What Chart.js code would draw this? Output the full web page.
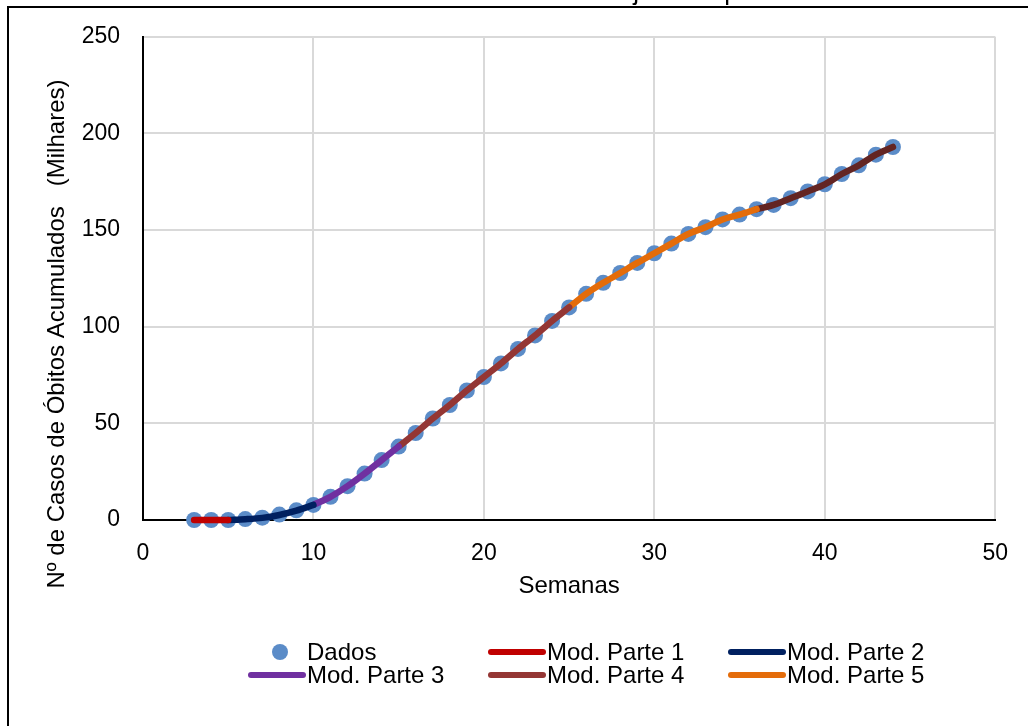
<!DOCTYPE html>
<html>
<head>
<meta charset="utf-8">
<script src="https://cdn.jsdelivr.net/npm/chart.js@4/dist/chart.umd.min.js"></script>
<style>
  html, body { margin: 0; padding: 0; background: #fff; overflow: hidden; }
  #wrap { position: relative; width: 1028px; height: 726px; }
  #grafico { position: absolute; left: 0; top: 0; }
  #legenda {
    position: absolute; left: 248px; top: 640px;
    display: grid; grid-template-columns: 240px 240px 240px;
    font-family: "Liberation Sans", Arial, sans-serif; font-size: 24px; color: #000;
  }
  .item { display: flex; align-items: center; height: 23px; white-space: nowrap; }
  .marca { position: relative; width: 58px; height: 23px; margin-right: 1px; }
  .marca .linha { position: absolute; left: 0; right: 0; top: 9px; height: 6px; border-radius: 3px; }
  .marca .ponto { position: absolute; left: 24px; top: 4px; width: 16px; height: 16px; border-radius: 50%; }
</style>
</head>
<body>
<div id="wrap">
  <canvas id="grafico" width="1028" height="726"></canvas>
  <div id="legenda"></div>
</div>
<script>
const titulo = "Nº de Óbitos Acumulados do COVID-19 Ajustado por Intervalos"
const tituloX = "Semanas"
const tituloY = "Nº de Casos de Óbitos Acumulados   (Milhares)"

// dados semanais (milhares de óbitos)
const semanas = [3,4,5,6,7,8,9,10,11,12,13,14,15,16,17,18,19,20,21,22,23,24,25,26,27,28,29,30,31,32,33,34,35,36,37,38,39,40,41,42,43,44]
const obitos = [0,0,0,0.5,1.2,2.8,5,7.8,12,17.5,24,31,38,45,52.5,59.5,67,74,81,88.5,95.5,103,110,117,122.7,127.8,133,138,143,148,151.5,155.5,158,160.8,163,166.5,170,173.7,179,183.5,189,193]

// modelos ajustados por intervalo
const parte1Semanas = [3,4,5]
const parte1Valores = [0,0,0]
const parte2Semanas = [5,6,7,8,9,10]
const parte2Valores = [0,0.4,1.1,2.6,4.8,7.8]
const parte3Semanas = [10,11,12,13,14,15]
const parte3Valores = [7.8,12,17.5,24,31,38]
const parte4Semanas = [15,16,17,18,19,20,21,22,23,24,25]
const parte4Valores = [38,45,52.5,59.5,67,74,81,88.5,95.5,103,110]
const parte5Semanas = [25,26,27,28,29,30,31,32,33,34,35,36]
const parte5Valores = [110,117,122.7,127.8,133,138,143,148,151.5,155.5,158,160.8]
const parte6Semanas = [36,37,38,39,40,41,42,43,44]
const parte6Valores = [160.8,163,166.5,170,173.7,179,183.5,189,193]

const fonte = '"Liberation Sans", Arial, sans-serif'

function pontos(xs, ys){
    return xs.map((x, i) => ({x: x, y: ys[i]}))
}

function modelo(label, xs, ys, cor, naLegenda){
    return {
        label: label,
        data: pontos(xs, ys),
        borderColor: cor,
        backgroundColor: cor,
        borderWidth: 6.5,
        borderCapStyle: 'round',
        borderJoinStyle: 'round',
        pointRadius: 0,
        showLine: true,
        cubicInterpolationMode: 'monotone',
        clip: false,
        order: 1,
        naLegenda: naLegenda
    }
}

const datasets = [
    {
        label: 'Dados',
        data: pontos(semanas, obitos),
        backgroundColor: '#5b8cc8',
        borderColor: '#5b8cc8',
        pointRadius: 8,
        pointBorderWidth: 0,
        showLine: false,
        clip: false,
        order: 10,
        naLegenda: true
    },
    modelo('Mod. Parte 1', parte1Semanas, parte1Valores, '#c00000', true),
    modelo('Mod. Parte 2', parte2Semanas, parte2Valores, '#002060', true),
    modelo('Mod. Parte 3', parte3Semanas, parte3Valores, '#7030a0', true),
    modelo('Mod. Parte 4', parte4Semanas, parte4Valores, '#943634', true),
    modelo('Mod. Parte 5', parte5Semanas, parte5Valores, '#e46c0a', true),
    modelo('Mod. Parte 6', parte6Semanas, parte6Valores, '#632523', false)
]

// títulos e moldura desenhados por cima do gráfico
const textos = {
    id: 'textos',
    afterDraw(chart){
        const ctx = chart.ctx
        const area = chart.chartArea
        ctx.save()
        ctx.fillStyle = '#000'
        ctx.textAlign = 'center'

        ctx.font = '26px ' + fonte
        ctx.textBaseline = 'alphabetic'
        ctx.fillText(titulo, 515, -0.3)

        ctx.strokeStyle = '#000'
        ctx.lineWidth = 2
        ctx.beginPath()
        ctx.moveTo(8, 726)
        ctx.lineTo(8, 7)
        ctx.lineTo(1028, 7)
        ctx.stroke()

        ctx.font = '24px ' + fonte
        ctx.textBaseline = 'middle'
        ctx.fillText(tituloX, (area.left + area.right) / 2, 586)

        ctx.translate(57, 334)
        ctx.rotate(-Math.PI / 2)
        ctx.fillText(tituloY, 0, 0)
        ctx.restore()
    }
}

const canvas = document.getElementById('grafico')
const chart = new Chart(canvas, {
    type: 'scatter',
    data: { datasets: datasets },
    options: {
        responsive: false,
        animation: false,
        layout: { padding: { top: 35, right: 32, left: 0, bottom: 0 } },
        plugins: {
            legend: { display: false },
            tooltip: { enabled: false }
        },
        scales: {
            x: {
                type: 'linear', min: 0, max: 50,
                ticks: { stepSize: 10, padding: 20, color: '#000', font: { family: fonte, size: 23 } },
                grid: { color: '#d9d9d9', lineWidth: 2, drawTicks: false },
                border: { color: '#000', width: 2 },
                afterFit(scale){ scale.height = 206 }
            },
            y: {
                min: 0, max: 250,
                ticks: { stepSize: 50, padding: 23, color: '#000', font: { family: fonte, size: 23 } },
                grid: { color: '#d9d9d9', lineWidth: 2, drawTicks: false },
                border: { color: '#000', width: 2 },
                afterFit(scale){ scale.width = 143 }
            }
        }
    },
    plugins: [textos]
})

// legenda em grade de três colunas
const legenda = document.getElementById('legenda')
chart.data.datasets.filter(ds => ds.naLegenda).forEach(ds => {
    const marca = ds.showLine === false
        ? `<span class="ponto" style="background:${ds.backgroundColor}"></span>`
        : `<span class="linha" style="background:${ds.borderColor}"></span>`
    legenda.innerHTML += `<div class="item"><div class="marca">${marca}</div><span>${ds.label}</span></div>`
})
</script>
</body>
</html>
